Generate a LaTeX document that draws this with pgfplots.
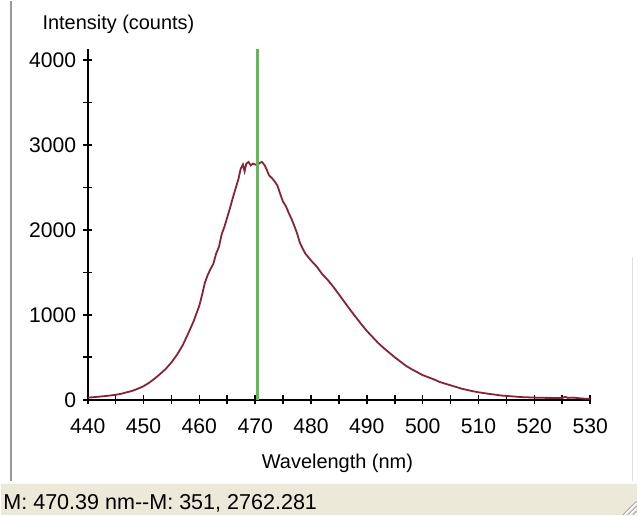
\documentclass[border=0pt]{standalone}
\usepackage{fontspec}
\setmainfont{Liberation Sans}
\usepackage{pgfplots}
\pgfplotsset{compat=1.18}
\definecolor{curvecol}{RGB}{135,35,55}
\definecolor{markcol}{RGB}{95,185,85}
\definecolor{statusbg}{RGB}{236,233,216}
\begin{document}
\begin{tikzpicture}
% window frame
\fill[white] (0,0) rectangle (319pt,258pt);
\fill[statusbg] (0,0) rectangle (319pt,16.5pt);
\draw[white!85!statusbg, line width=1pt] (0,16.2pt) -- (319pt,16.2pt);
\draw[black!40, line width=1pt] (5.25pt,17pt) -- (5.25pt,258pt);
\draw[black!12, line width=0.5pt] (316.5pt,17pt) -- (316.5pt,129.5pt);
\foreach \d in {2,4.5,7}{
  \draw[black!35, line width=0.5pt] (319pt-\d pt,0.3pt) -- (318.7pt,\d pt);
  \draw[white, line width=0.5pt] (319pt-\d pt+0.8pt,0.3pt) -- (318.7pt,\d pt-0.8pt);
}
\node[anchor=base west, font=\fontsize{10.8}{12}\selectfont, inner sep=0pt] at (1pt,3pt) {M: 470.39 nm-{}-M: 351, 2762.281};
\begin{axis}[
  at={(43.5pt,58pt)}, anchor=south west,
  scale only axis, width=252pt, height=175.85pt,
  xmin=440, xmax=530, ymin=0, ymax=4129,
  axis lines*=left,
  axis line style={line width=1pt, black},
  xtick={440,450,...,530},
  minor xtick={445,455,...,525},
  ytick={0,1000,...,4000},
  minor ytick={500,1500,2500,3500},
  tick align=center,
  major tick length=4.5pt, minor tick length=4.5pt,
  every tick/.style={black, line width=0.8pt},
  tick label style={font=\fontsize{10.6}{12}\selectfont},
  xticklabel style={yshift=-3.5pt},
  /pgf/number format/assume math mode=true,
  /pgf/number format/1000 sep={},
  xlabel={Wavelength (nm)},
  ylabel={Intensity (counts)},
  label style={font=\fontsize{11}{12}\selectfont},
  every axis x label/.style={at={(axis description cs:0.497,-0.197)}, anchor=base},
  every axis y label/.style={at={(axis description cs:-0.104,1.0569)}, anchor=base west},
  clip=false,
]
\addplot[curvecol, line width=0.9pt] table {
x y
440 25
441 30
442 36
443 42
444 50
445 58
446 70
447 88
448 105
449 130
450 160
451 200
452 250
453 305
454 365
455 440
456 530
457 640
458 780
459 930
460 1110
460.5 1240
461 1380
461.5 1470
462 1540
462.5 1600
463 1720
463.5 1800
464 1950
464.5 2040
465 2150
465.5 2260
466 2380
466.5 2490
467 2600
467.4 2720
467.8 2770
468.1 2690
468.4 2780
468.8 2800
469.2 2760
469.6 2780
470 2770
470.4 2762
470.8 2790
471.2 2800
471.6 2770
472 2720
472.5 2640
473 2610
473.5 2570
474 2520
474.5 2420
475 2330
475.5 2280
476 2200
476.5 2130
477 2050
477.5 1960
478 1850
478.5 1780
479 1720
480 1640
481 1570
482 1480
483 1410
484 1330
485 1240
486 1150
487 1060
488 975
489 890
490 810
491 740
492 670
493 610
494 555
495 500
496 450
497 400
498 360
499 325
500 290
501 265
502 240
503 210
504 190
505 170
506 150
507 130
508 115
509 100
510 88
511 78
512 68
513 60
514 50
515 45
516 40
517 35
518 30
519 28
520 25
521 24
522 22
523 22
524 20
525 20
525.5 35
526 22
527 25
528 18
529 12
530 10
};
\addplot[markcol, line width=1.3pt] coordinates {(470.39,0) (470.39,4129)};
\end{axis}
\end{tikzpicture}
\end{document}
